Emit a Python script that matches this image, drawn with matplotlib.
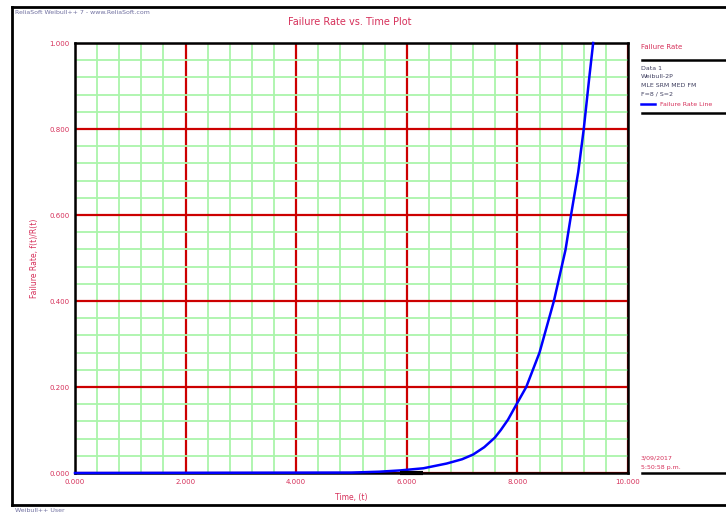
import matplotlib
matplotlib.use("Agg")
import matplotlib.pyplot as plt
from matplotlib.lines import Line2D
import numpy as np

# data
time_t = [0.0, 5.0, 5.5, 5.88, 6.3, 6.72, 7.0, 7.2, 7.4, 7.59, 7.7, 7.83, 8.0,
          8.16, 8.4, 8.66, 8.87, 8.97, 9.1, 9.2, 9.3, 9.37]
fail_rate = [0.0, 0.001, 0.003, 0.006, 0.011, 0.022, 0.032, 0.043, 0.060,
             0.082, 0.100, 0.124, 0.1635, 0.2, 0.28, 0.4, 0.519, 0.6, 0.7,
             0.8, 0.92, 1.0]
seg_x = [5.88, 6.29]
seg_y = [0.0, 0.0]
xticks = [0, 2, 4, 6, 8, 10]
yticks = [0.0, 0.2, 0.4, 0.6, 0.8, 1.0]
xtick_labels = ["0.000", "2.000", "4.000", "6.000", "8.000", "10.000"]
ytick_labels = ["0.000", "0.200", "0.400", "0.600", "0.800", "1.000"]
legend_lines = ["Data 1", "Weibull-2P", "MLE SRM MED FM", "F=8 / S=2"]

W, H = 726, 512
red_txt = "#d6305a"
fig = plt.figure(figsize=(W / 100, H / 100), dpi=100)
fig.patch.set_facecolor("white")

def fx(px):
    return px / W

def fy(py):
    return 1 - py / H

ax = fig.add_axes([fx(75), fy(473), fx(628) - fx(75), fy(43) - fy(473)])
ax.set_xlim(0, 10)
ax.set_ylim(0, 1)

ax.set_xticks(np.arange(0, 10.01, 0.4), minor=True)
ax.set_yticks(np.arange(0, 1.001, 0.04), minor=True)
ax.set_xticks(xticks)
ax.set_yticks(yticks)
ax.set_xticklabels(xtick_labels)
ax.set_yticklabels(ytick_labels)
ax.grid(which="minor", color="#aaf5aa", lw=1.3)
ax.grid(which="major", color="#cc0000", lw=1.6)
ax.set_axisbelow(True)
ax.tick_params(which="both", length=0, labelsize=5, colors=red_txt, pad=4)
for s in ax.spines.values():
    s.set_color("black")
    s.set_linewidth(1.8)
    s.set_zorder(3)

ax.plot(time_t, fail_rate, color="#0000ff", lw=1.8, zorder=4, clip_on=False)
ax.plot(seg_x, seg_y, color="black", lw=3, zorder=5, clip_on=False, solid_capstyle="butt")

ax.set_xlabel("Time, (t)", fontsize=5.5, color=red_txt, labelpad=6)
ax.set_ylabel("Failure Rate, f(t)/R(t)", fontsize=5.5, color=red_txt, labelpad=7)

fig.text(fx(350), fy(22), "Failure Rate vs. Time Plot", fontsize=7, color=red_txt,
         ha="center", va="center")
fig.text(fx(15), fy(13), "ReliaSoft Weibull++ 7 - www.ReliaSoft.com", fontsize=4.5,
         color="#7070a0", ha="left", va="center")
fig.text(fx(15), fy(510), "Weibull++ User", fontsize=4.5, color="#7070a0",
         ha="left", va="center")

# outer frame
fig.add_artist(Line2D([fx(12), 1], [fy(7), fy(7)], color="black", lw=2))
fig.add_artist(Line2D([fx(12), fx(12)], [fy(7), fy(505)], color="black", lw=2))
fig.add_artist(Line2D([fx(12), 1], [fy(505), fy(505)], color="black", lw=2))

# right panel
fig.text(fx(641), fy(47), "Failure Rate", fontsize=5, color=red_txt, ha="left", va="center")
fig.add_artist(Line2D([fx(642), 1], [fy(60), fy(60)], color="black", lw=1.8))
for i, t in enumerate(legend_lines):
    fig.text(fx(641), fy(68 + i * 8.7), t, fontsize=4.5, color="#404060",
             ha="left", va="center")
fig.add_artist(Line2D([fx(641), fx(655)], [fy(104), fy(104)], color="#0000ff", lw=1.8))
fig.text(fx(660), fy(104), "Failure Rate Line", fontsize=4.5, color=red_txt,
         ha="left", va="center")
fig.add_artist(Line2D([fx(642), 1], [fy(113), fy(113)], color="black", lw=1.8))
fig.text(fx(641), fy(458), "3/09/2017", fontsize=4.5, color=red_txt, ha="left", va="center")
fig.text(fx(641), fy(467), "5:50:58 p.m.", fontsize=4.5, color=red_txt, ha="left", va="center")
fig.add_artist(Line2D([fx(642), 1], [fy(473), fy(473)], color="black", lw=1.8))

fig.savefig("out.png", dpi=100)
